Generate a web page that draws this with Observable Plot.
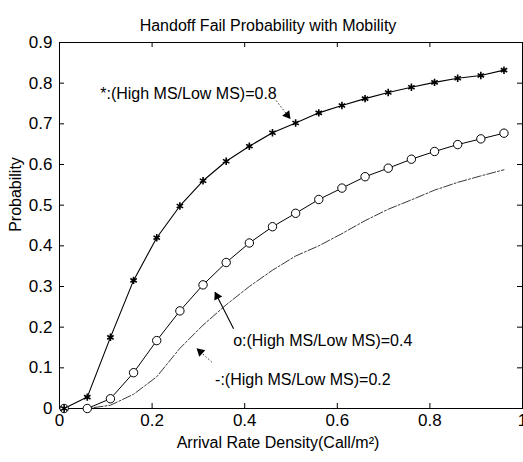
<!DOCTYPE html>
<html><head><meta charset="utf-8">
<script src="https://cdn.jsdelivr.net/npm/d3@7"></script>
<script src="https://cdn.jsdelivr.net/npm/@observablehq/plot@0.6"></script>
<style>
body{margin:0;background:#fff;}
#chart{width:523px;height:462px;}
</style></head><body><div id="chart"></div>
<script>
const arrival = [0.01,0.06,0.11,0.16,0.21,0.26,0.31,0.36,0.41,0.46,0.51,0.56,0.61,0.66,0.71,0.76,0.81,0.86,0.91,0.96];
const ratio08 = [0,0.028,0.175,0.315,0.42,0.498,0.56,0.608,0.645,0.678,0.702,0.727,0.745,0.762,0.777,0.79,0.802,0.812,0.819,0.832];
const ratio04 = [0,0,0.024,0.088,0.167,0.24,0.304,0.359,0.407,0.447,0.48,0.514,0.542,0.57,0.591,0.613,0.632,0.649,0.663,0.677];
const ratio02 = [0,0,0.008,0.035,0.078,0.148,0.205,0.255,0.3,0.34,0.375,0.4,0.43,0.462,0.49,0.513,0.537,0.556,0.572,0.587];
const xTicks = [0,0.2,0.4,0.6,0.8,1];
const yTicks = [0,0.1,0.2,0.3,0.4,0.5,0.6,0.7,0.8,0.9];
const titleText = "Handoff Fail Probability with Mobility";
const xLabel = "Arrival Rate Density(Call/m²)";
const yLabel = "Probability";
const annLabels = ["*:(High MS/Low MS)=0.8","o:(High MS/Low MS)=0.4","-:(High MS/Low MS)=0.2"];
const annTextX = [0.088,0.375,0.336];
const annTextY = [0.774,0.167,0.07];
const annFromX = [0.468,0.376,0.329];
const annFromY = [0.757,0.196,0.114];
const annToX = [0.498,0.336,0.297];
const annToY = [0.713,0.286,0.147];
const annDash = ["1.5,2","none","1.5,2"];

const W=523,H=462,mL=59,mR=1,mT=42,mB=54;
const fw=W-mL-mR, fh=H-mT-mB;
const font="'Liberation Sans', Arial, Helvetica, sans-serif";
const sx=Plot.scale({x:{domain:[0,1],range:[mL,W-mR]}});
const sy=Plot.scale({y:{domain:[0,0.9],range:[H-mB,mT]}});

const heads = annLabels.map((l,i)=>{
  const x1=sx.apply(annFromX[i]), y1=sy.apply(annFromY[i]);
  const x2=sx.apply(annToX[i]), y2=sy.apply(annToY[i]);
  const dx=x2-x1, dy=y2-y1, len=Math.hypot(dx,dy);
  const back=4.5;
  return {x:sx.invert(x2-dx/len*back), y:sy.invert(y2-dy/len*back), rot:Math.atan2(dx,-dy)*180/Math.PI};
});

const annMarks = annLabels.flatMap((l,i)=>[
  Plot.link([i],{x1:()=>annFromX[i],y1:()=>annFromY[i],x2:()=>annToX[i],y2:()=>annToY[i],stroke:"black",strokeWidth:i===1?1.1:0.8,strokeDasharray:annDash[i]}),
  Plot.text([l],{x:()=>annTextX[i],y:()=>annTextY[i],textAnchor:"start",fontSize:16,fill:"black"})
]);

const plot = Plot.plot({
  width:W,height:H,marginLeft:mL,marginRight:mR,marginTop:mT,marginBottom:mB,
  style:{fontFamily:font,fontSize:"16px",background:"white",color:"black",overflow:"visible"},
  x:{domain:[0,1]}, y:{domain:[0,0.9]},
  marks:[
    Plot.frame({stroke:"black",strokeWidth:1}),
    Plot.axisX({ticks:xTicks,tickFormat:d=>String(d),tickSize:0,tickPadding:5,fontSize:17,label:null}),
    Plot.axisY({ticks:yTicks,tickFormat:d=>String(d),tickSize:0,tickPadding:7,fontSize:17,label:null}),
    Plot.tickX(xTicks,{x:d=>d,insetTop:fh-5,stroke:"black"}),
    Plot.tickX(xTicks,{x:d=>d,insetBottom:fh-5,stroke:"black"}),
    Plot.tickY(yTicks,{y:d=>d,insetRight:fw-5,stroke:"black"}),
    Plot.tickY(yTicks,{y:d=>d,insetLeft:fw-5,stroke:"black"}),
    Plot.lineY(ratio02,{x:arrival,y:d=>d,stroke:"#222",strokeWidth:0.9,strokeDasharray:"9,2,2,2"}),
    Plot.lineY(ratio04,{x:arrival,y:d=>d,stroke:"black",strokeWidth:1}),
    Plot.lineY(ratio08,{x:arrival,y:d=>d,stroke:"black",strokeWidth:1.1}),
    Plot.dot(ratio04,{x:arrival,y:d=>d,r:4.2,stroke:"black",fill:"white",strokeWidth:1}),
    Plot.dot(ratio08,{x:arrival,y:d=>d,r:3.5,symbol:"asterisk",stroke:"black",strokeWidth:1.6}),
    ...annMarks,
    Plot.dot(heads,{x:"x",y:"y",rotate:"rot",symbol:"triangle",r:3.3,fill:"black",stroke:"none"}),
    Plot.text([titleText],{frameAnchor:"top",textAnchor:"middle",dx:-23,dy:-23,fontSize:16,fill:"black"}),
    Plot.text([xLabel],{frameAnchor:"bottom",textAnchor:"middle",dx:-13,dy:39,fontSize:16,fill:"black"}),
    Plot.text([yLabel],{frameAnchor:"left",textAnchor:"middle",rotate:-90,dx:-44,dy:-31,fontSize:16,fill:"black"})
  ]
});
document.getElementById("chart").appendChild(plot);
</script></body></html>
